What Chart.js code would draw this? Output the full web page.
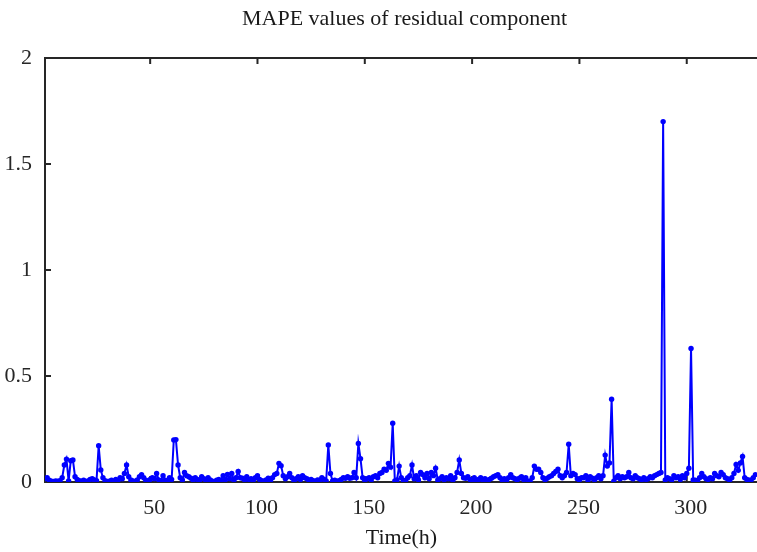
<!DOCTYPE html>
<html>
<head>
<meta charset="utf-8">
<script src="https://cdn.jsdelivr.net/npm/chart.js@4.4.1/dist/chart.umd.min.js"></script>
<style>
  html, body { margin: 0; padding: 0; background: #fff; overflow: hidden; }
  #wrap { width: 757px; height: 552px; overflow: hidden; }
</style>
</head>
<body>
<div id="wrap"><canvas id="mape_graph" width="761" height="552"></canvas></div>
<script>
// MAPE of residual component, one value per hour (h = 1..332)
const mapeValues = [
  0.015,
  0.02, 0.008, 0.004, 0.003, 0.005, 0.004, 0.006, 0.02, 0.08, 0.108,
  0.005, 0.1, 0.104, 0.025, 0.012, 0.006, 0.004, 0.008, 0.003, 0.005,
  0.012, 0.015, 0.01, 0.006, 0.171, 0.057, 0.02, 0.006, 0.003, 0.004,
  0.008, 0.004, 0.012, 0.006, 0.02, 0.015, 0.04, 0.08, 0.025, 0.01,
  0.005, 0.003, 0.01, 0.025, 0.035, 0.02, 0.008, 0.004, 0.012, 0.02,
  0.015, 0.04, 0.01, 0.006, 0.03, 0.008, 0.004, 0.02, 0.012, 0.198,
  0.2, 0.08, 0.02, 0.01, 0.045, 0.03, 0.025, 0.018, 0.008, 0.02,
  0.012, 0.006, 0.025, 0.015, 0.005, 0.02, 0.01, 0.004, 0.003, 0.008,
  0.012, 0.006, 0.03, 0.01, 0.036, 0.015, 0.04, 0.008, 0.02, 0.05,
  0.02, 0.018, 0.01, 0.025, 0.012, 0.015, 0.008, 0.02, 0.03, 0.012,
  0.006, 0.004, 0.01, 0.018, 0.006, 0.02, 0.035, 0.04, 0.088, 0.077,
  0.03, 0.015, 0.025, 0.04, 0.02, 0.006, 0.015, 0.025, 0.012, 0.03,
  0.02, 0.015, 0.008, 0.012, 0.006, 0.004, 0.01, 0.008, 0.02, 0.012,
  0.005, 0.175, 0.04, 0.005, 0.008, 0.004, 0.006, 0.012, 0.02, 0.018,
  0.025, 0.018, 0.02, 0.045, 0.02, 0.182, 0.11, 0.02, 0.008, 0.015,
  0.02, 0.01, 0.025, 0.03, 0.02, 0.04, 0.045, 0.06, 0.055, 0.088,
  0.07, 0.277, 0.005, 0.01, 0.075, 0.02, 0.006, 0.008, 0.02, 0.03,
  0.08, 0.015, 0.03, 0.01, 0.045, 0.035, 0.02, 0.04, 0.015, 0.045,
  0.03, 0.065, 0.01, 0.015, 0.025, 0.01, 0.02, 0.015, 0.03, 0.008,
  0.02, 0.045, 0.104, 0.04, 0.02, 0.018, 0.025, 0.012, 0.008, 0.02,
  0.004, 0.012, 0.02, 0.008, 0.015, 0.006, 0.012, 0.018, 0.025, 0.03,
  0.035, 0.02, 0.01, 0.015, 0.006, 0.02, 0.035, 0.02, 0.015, 0.01,
  0.018, 0.025, 0.012, 0.02, 0.004, 0.005, 0.02, 0.075, 0.06, 0.06,
  0.045, 0.02, 0.01, 0.018, 0.025, 0.03, 0.04, 0.05, 0.06, 0.03,
  0.02, 0.03, 0.045, 0.178, 0.03, 0.04, 0.035, 0.015, 0.01, 0.02,
  0.02, 0.03, 0.008, 0.025, 0.018, 0.01, 0.02, 0.03, 0.015, 0.03,
  0.127, 0.075, 0.09, 0.39, 0.004, 0.02, 0.03, 0.015, 0.025, 0.02,
  0.025, 0.045, 0.02, 0.015, 0.03, 0.02, 0.015, 0.01, 0.02, 0.012,
  0.015, 0.025, 0.02, 0.03, 0.035, 0.04, 0.045, 1.70, 0.01, 0.02,
  0.015, 0.01, 0.03, 0.02, 0.025, 0.012, 0.03, 0.02, 0.04, 0.065,
  0.63, 0.01, 0.008, 0.005, 0.02, 0.04, 0.025, 0.015, 0.012, 0.02,
  0.015, 0.04, 0.03, 0.025, 0.045, 0.035, 0.02, 0.015, 0.01, 0.02,
  0.04, 0.083, 0.055, 0.09, 0.12, 0.02, 0.012, 0.008, 0.01, 0.02,
  0.035
];
const xTicks = [50, 100, 150, 200, 250, 300];
const yTicks = [0, 0.5, 1, 1.5, 2];
const chartTitle = 'MAPE values of residual component';

const points = mapeValues.map((v, i) => ({ x: i + 1, y: v }));

const axisColor = '#262626';
const serif = "'Liberation Serif', 'DejaVu Serif', serif";

// matlab style box: left, bottom, top lines with inward ticks
const boxPlugin = {
  id: 'matlabBox',
  beforeDatasetsDraw(chart) {
    const c = chart.ctx;
    const a = chart.chartArea;
    const xs = chart.scales.x, ys = chart.scales.y;
    c.save();
    c.strokeStyle = axisColor;
    c.lineWidth = 2;
    c.beginPath();
    c.moveTo(a.left, a.top);
    c.lineTo(a.right + 4, a.top);
    c.moveTo(a.left, a.top - 1);
    c.lineTo(a.left, a.bottom + 1);
    c.moveTo(a.left, a.bottom);
    c.lineTo(a.right + 4, a.bottom);
    xTicks.forEach(t => {
      const px = xs.getPixelForValue(t);
      c.moveTo(px, a.bottom);
      c.lineTo(px, a.bottom - 6);
      c.moveTo(px, a.top);
      c.lineTo(px, a.top + 6);
    });
    yTicks.forEach(t => {
      const py = ys.getPixelForValue(t);
      c.moveTo(a.left, py);
      c.lineTo(a.left + 6, py);
    });
    c.stroke();

    // title centred over the axes box
    c.fillStyle = '#1a1a1a';
    c.font = '22px ' + serif;
    c.textAlign = 'center';
    c.textBaseline = 'middle';
    c.fillText(chartTitle, (a.left + a.right) / 2 + 3, 19);
    c.restore();
  }
};

const ctx = document.getElementById('mape_graph').getContext('2d');
const myChart = new Chart(ctx, {
  type: 'line',
  data: {
    datasets: [{
      label: 'MAPE',
      data: points,
      borderColor: '#0000ff',
      backgroundColor: '#0000ff',
      borderWidth: 2,
      pointRadius: 2.7,
      pointBorderWidth: 0,
      pointHoverRadius: 3,
      tension: 0
    }]
  },
  options: {
    responsive: false,
    animation: false,
    layout: { padding: { left: 0, right: 0, top: 58, bottom: 0 } },
    plugins: {
      legend: { display: false },
      tooltip: { enabled: false },
      title: { display: false }
    },
    scales: {
      x: {
        type: 'linear',
        min: 1,
        max: 333.2,
        afterBuildTicks(scale) {
          scale.ticks = xTicks.map(v => ({ value: v }));
        },
        afterFit(scale) { scale.height = 70; },
        grid: { display: false },
        border: { display: false },
        ticks: {
          color: '#262626',
          font: { family: serif, size: 22 },
          padding: 5,
          labelOffset: 4,
          maxRotation: 0
        },
        title: {
          display: true,
          text: 'Time(h)',
          color: '#1a1a1a',
          font: { family: serif, size: 22 },
          padding: { top: 0, bottom: 1 }
        }
      },
      y: {
        min: 0,
        max: 2,
        afterBuildTicks(scale) {
          scale.ticks = yTicks.map(v => ({ value: v }));
        },
        afterFit(scale) { scale.width = 45; },
        grid: { display: false },
        border: { display: false },
        ticks: {
          color: '#262626',
          font: { family: serif, size: 22 },
          padding: 5,
          callback: v => String(v)
        }
      }
    }
  },
  plugins: [boxPlugin]
});
</script>
</body>
</html>
